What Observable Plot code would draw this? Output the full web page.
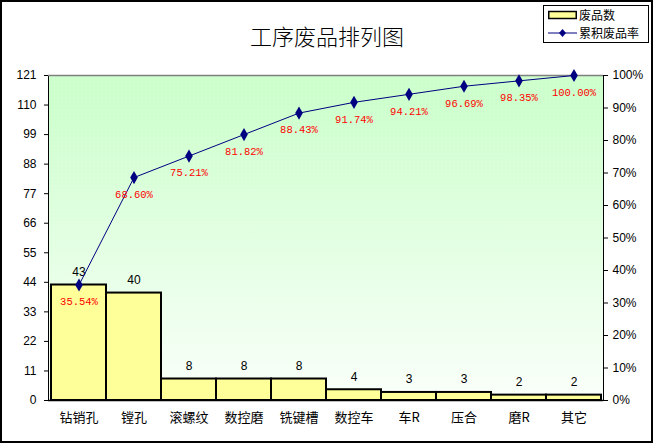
<!DOCTYPE html>
<html>
<head>
<meta charset="utf-8">
<script src="https://cdn.jsdelivr.net/npm/d3@7"></script>
<script src="https://cdn.jsdelivr.net/npm/@observablehq/plot@0.6"></script>
<style>
  html, body { margin: 0; padding: 0; background: #fff; }
  #wrap { position: relative; width: 654px; height: 444px; overflow: hidden; background: #fff; }
  #border { position: absolute; left: 0; top: 0; width: 653px; height: 443px; box-sizing: border-box; border: 2px solid #000; pointer-events: none; z-index: 3; }
  #title { position: absolute; left: 0; width: 654px; top: 20px; text-align: center; font-family: "Noto Sans CJK SC", sans-serif; font-weight: 300; font-size: 22px; line-height: 30px; color: #000; z-index: 2; }
  #legend { position: absolute; left: 543px; top: 5px; width: 106px; height: 38px; box-sizing: border-box; border: 1px solid #000; background: #fff; z-index: 2; font-family: "Noto Sans CJK SC", sans-serif; font-size: 12px; color: #000; }
  .item { position: absolute; left: 4px; height: 18px; line-height: 18px; display: flex; align-items: center; white-space: nowrap; }
  .item span { line-height: 18px; }
  .item svg { margin-right: 2px; }
  #chart { position: absolute; left: 0; top: 0; z-index: 1; }
</style>
</head>
<body>
<div id="wrap">
  <div id="chart"></div>
  <div id="title">工序废品排列图</div>
  <div id="legend">
    <div class="item" style="top:0px"><svg width="29" height="10"><rect x="0.75" y="1.5" width="27.5" height="7" fill="#ffff99" stroke="#000" stroke-width="1.5"/></svg><span>废品数</span></div>
    <div class="item" style="top:18px"><svg width="29" height="10"><line x1="0" y1="5" x2="29" y2="5" stroke="#000080" stroke-width="1"/><path d="M14.5 1 L18 5 L14.5 9 L11 5 Z" fill="#000080"/></svg><span>累积废品率</span></div>
  </div>
  <div id="border"></div>
</div>
<script>
const categories = ["钻销孔", "镗孔", "滚螺纹", "数控磨", "铣键槽", "数控车", "车R", "压合", "磨R", "其它"];
const counts = [43, 40, 8, 8, 8, 4, 3, 3, 2, 2];
const cumPct = [35.54, 68.60, 75.21, 81.82, 88.43, 91.74, 94.21, 96.69, 98.35, 100.00];
const leftTicks = [0, 11, 22, 33, 44, 55, 66, 77, 88, 99, 110, 121];
const pctTicks = [0, 10, 20, 30, 40, 50, 60, 70, 80, 90, 100];
const total = 121;

const data = categories.map((c, i) => ({cat: c, count: counts[i], cum: cumPct[i]}));
const toY = p => p * total / 100;

const svg = Plot.plot({
  width: 654,
  height: 444,
  marginLeft: 48,
  marginRight: 51,
  marginTop: 75,
  marginBottom: 44,
  style: {fontFamily: "'Liberation Sans', Arial, sans-serif", fontSize: "12px", background: "transparent", color: "#000"},
  x: {domain: categories, padding: 0, label: null},
  y: {domain: [0, total], label: null},
  marks: [
    Plot.frame({fill: "url(#bgGrad)", stroke: "#000", strokeWidth: 1}),
    Plot.frame({fill: "url(#dots)", stroke: "none"}),
    Plot.ruleY([total], {stroke: "#808080", strokeWidth: 1.5}),
    Plot.barY(data, {x: "cat", y: "count", fill: "#ffff99", stroke: "#000", strokeWidth: 2, inset: 0}),
    Plot.ruleY([0], {stroke: "#000", strokeWidth: 1.5}),
    Plot.text(data, {x: "cat", y: "count", text: d => String(d.count), dy: -13, fontSize: 12, fill: "#000"}),
    Plot.line(data, {x: "cat", y: d => toY(d.cum), stroke: "#000080", strokeWidth: 1}),
    Plot.dot(data, {x: "cat", y: d => toY(d.cum), symbol: "diamond", r: 4, fill: "#000080", stroke: "none"}),
    Plot.text(data, {x: "cat", y: d => toY(d.cum), text: d => d.cum.toFixed(2) + "%", dy: 17, fill: "#ff0000", fontSize: 10.5, fontFamily: "'Liberation Mono', 'DejaVu Sans Mono', monospace"}),
    Plot.axisY(leftTicks, {anchor: "left", tickSize: 4, tickPadding: 8, fontSize: 12, label: null}),
    Plot.axisY(pctTicks.map(toY), {anchor: "right", tickSize: 4, tickPadding: 5, fontSize: 12, label: null, tickFormat: d => Math.round(d * 100 / total) + "%"}),
    Plot.axisX({tickSize: 0, tickPadding: 12, fontSize: 13, fontFamily: "'Noto Sans CJK SC', sans-serif", label: null})
  ]
});

const defs = d3.select(svg).insert("defs", ":first-child");
const g = defs.append("linearGradient").attr("id", "bgGrad").attr("x1", 0).attr("y1", 0).attr("x2", 0).attr("y2", 1);
g.append("stop").attr("offset", "0").attr("stop-color", "#ccffcc");
g.append("stop").attr("offset", "0.07").attr("stop-color", "#ccffcc");
g.append("stop").attr("offset", "1").attr("stop-color", "#fafffa");
const pat = defs.append("pattern").attr("id", "dots").attr("patternUnits", "userSpaceOnUse").attr("width", 4).attr("height", 4);
pat.append("rect").attr("x", 1).attr("y", 1).attr("width", 1).attr("height", 1).attr("fill", "#ffffff").attr("fill-opacity", 0.35);

document.getElementById("chart").appendChild(svg);
</script>
</body>
</html>
